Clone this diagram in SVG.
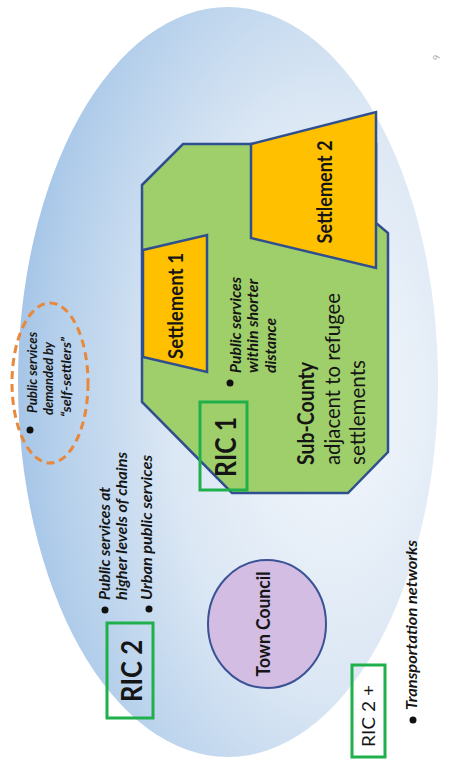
<svg xmlns="http://www.w3.org/2000/svg" width="451" height="760" viewBox="0 0 451 760">
<defs>
<radialGradient id="bg" cx="0.75" cy="0.52" r="0.78">
<stop offset="0" stop-color="#f5f8fc"/>
<stop offset="0.5" stop-color="#dbe7f4"/>
<stop offset="0.85" stop-color="#b4cfeb"/>
<stop offset="1" stop-color="#a1c2e6"/>
</radialGradient>
<style>
text{font-family:Lato,"Open Sans","Liberation Sans",sans-serif;fill:#151515}
.bi{font-weight:bold;font-style:italic}
.b{font-weight:bold}
.shape{stroke:#2f4f8f;stroke-width:2.5;stroke-linejoin:miter}
.ric{fill:none;stroke:#1fb04c;stroke-width:3}
.dot{fill:#111}
</style>
</defs>
<rect width="451" height="760" fill="#ffffff"/>
<g id="region">
<ellipse cx="228" cy="382" rx="210" ry="375" fill="url(#bg)"/>
</g>
<text x="440" y="60" transform="rotate(-90 440 60)" font-size="9" style="fill:#aaaaaa">9</text>
<g id="self-settlers">
<ellipse cx="50" cy="383" rx="38" ry="80" fill="none" stroke="#e8883a" stroke-width="3" stroke-dasharray="8 5"/>
<circle class="dot" cx="30" cy="430" r="3.5"/>
<text class="bi" x="37" y="413" transform="rotate(-90 37 413)" font-size="14" textLength="81" lengthAdjust="spacingAndGlyphs">Public services</text>
<text class="bi" x="53" y="415" transform="rotate(-90 53 415)" font-size="14" textLength="73" lengthAdjust="spacingAndGlyphs">demanded by</text>
<text class="bi" x="71" y="417" transform="rotate(-90 71 417)" font-size="14" textLength="80" lengthAdjust="spacingAndGlyphs">“self-settlers”</text>
</g>
<g id="sub-county">
<polygon class="shape" fill="#9fcf6a" points="142,185 183,144 376,144 376,223 388,233 388,452 348,493 232,493 142,402"/>
<text class="b" x="314" y="465" transform="rotate(-90 314 465)" font-size="22" textLength="103" lengthAdjust="spacingAndGlyphs">Sub-County</text>
<text x="340" y="465" transform="rotate(-90 340 465)" font-size="22" textLength="172" lengthAdjust="spacingAndGlyphs">adjacent to refugee</text>
<text x="365" y="465" transform="rotate(-90 365 465)" font-size="22" textLength="105" lengthAdjust="spacingAndGlyphs">settlements</text>
<circle class="dot" cx="230" cy="383" r="3.5"/>
<text class="bi" x="241" y="373" transform="rotate(-90 241 373)" font-size="15" textLength="96" lengthAdjust="spacingAndGlyphs">Public services</text>
<text class="bi" x="258" y="373" transform="rotate(-90 258 373)" font-size="15" textLength="94" lengthAdjust="spacingAndGlyphs">within shorter</text>
<text class="bi" x="276" y="373" transform="rotate(-90 276 373)" font-size="15" textLength="55" lengthAdjust="spacingAndGlyphs">distance</text>
</g>
<g id="settlement-1">
<polygon class="shape" fill="#ffc000" points="143,250 207,235 207,372 143,357"/>
<text class="b" x="183" y="306" transform="rotate(-90 183 306)" font-size="20" text-anchor="middle" textLength="106" lengthAdjust="spacingAndGlyphs">Settlement  1</text>
</g>
<g id="settlement-2">
<polygon class="shape" fill="#ffc000" points="251,144 376,112 376,268 251,238"/>
<text class="b" x="332" y="192" transform="rotate(-90 332 192)" font-size="20" text-anchor="middle" textLength="103" lengthAdjust="spacingAndGlyphs">Settlement 2</text>
</g>
<g id="ric1">
<rect class="ric" x="200" y="402" width="47" height="88"/>
<text class="b" x="236" y="447" transform="rotate(-90 236 447)" font-size="29" text-anchor="middle" textLength="60" lengthAdjust="spacingAndGlyphs">RIC 1</text>
</g>
<g id="ric2">
<rect class="ric" x="107" y="623" width="46" height="95"/>
<text class="b" x="142" y="671" transform="rotate(-90 142 671)" font-size="29" text-anchor="middle" textLength="62" lengthAdjust="spacingAndGlyphs">RIC 2</text>
<circle class="dot" cx="105" cy="610" r="3.5"/>
<text class="bi" x="110" y="600" transform="rotate(-90 110 600)" font-size="16" textLength="113" lengthAdjust="spacingAndGlyphs">Public services at</text>
<text class="bi" x="127" y="600" transform="rotate(-90 127 600)" font-size="16" textLength="148" lengthAdjust="spacingAndGlyphs">higher levels of chains</text>
<circle class="dot" cx="149" cy="609" r="3.5"/>
<text class="bi" x="152" y="600" transform="rotate(-90 152 600)" font-size="16" textLength="145" lengthAdjust="spacingAndGlyphs">Urban public services</text>
</g>
<g id="town-council">
<ellipse cx="267" cy="624" rx="59" ry="64" fill="#d4bde3" stroke="#3a5296" stroke-width="2"/>
<text class="b" x="270" y="624" transform="rotate(-90 270 624)" font-size="18" text-anchor="middle" textLength="105" lengthAdjust="spacingAndGlyphs">Town Council</text>
</g>
<g id="ric2plus">
<rect class="ric" x="352" y="665" width="33" height="92"/>
<text x="375" y="716" transform="rotate(-90 375 716)" font-size="18" text-anchor="middle" textLength="62" lengthAdjust="spacingAndGlyphs">RIC 2 +</text>
<circle class="dot" cx="413" cy="720" r="3.5"/>
<text class="bi" x="417" y="710" transform="rotate(-90 417 710)" font-size="16" textLength="170" lengthAdjust="spacingAndGlyphs">Transportation networks</text>
</g>
<g id="connectors"></g>
</svg>
